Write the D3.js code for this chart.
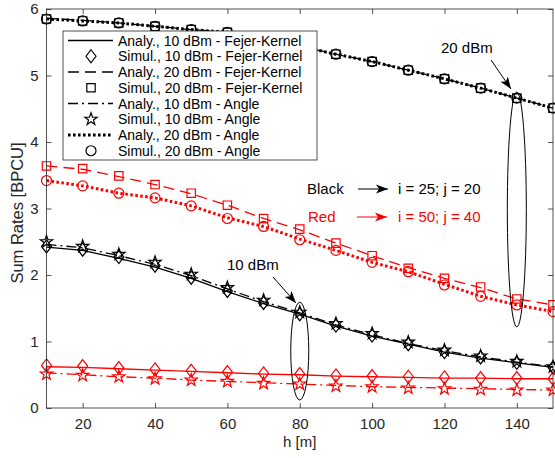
<!DOCTYPE html>
<html>
<head>
<meta charset="utf-8">
<script src="https://cdn.jsdelivr.net/npm/d3@7"></script>
<style>
  body { margin: 0; background: #fff; }
  svg { font-family: "Liberation Sans", Arial, sans-serif; }
</style>
</head>
<body>
<svg id="chart" width="555" height="458"></svg>
<script>
// h values (x axis)
const hValues = [10, 20, 30, 40, 50, 60, 70, 80, 90, 100, 110, 120, 130, 140, 150];

// black curves: i = 25; j = 20
const blackAnaFK10 = [2.42, 2.37, 2.25, 2.12, 1.95, 1.75, 1.57, 1.41, 1.23, 1.08, 0.96, 0.84, 0.75, 0.68, 0.61];
const blackSimFK10 = [2.43, 2.38, 2.27, 2.14, 1.96, 1.76, 1.58, 1.41, 1.24, 1.09, 0.96, 0.84, 0.76, 0.68, 0.61];
const blackAnaFK20 = [5.86, 5.83, 5.79, 5.74, 5.69, 5.65, 5.55, 5.44, 5.32, 5.21, 5.08, 4.95, 4.81, 4.66, 4.51];
const blackSimFK20 = [5.85, 5.82, 5.79, 5.74, 5.69, 5.65, 5.55, 5.44, 5.32, 5.21, 5.08, 4.95, 4.81, 4.66, 4.51];
const blackAnaAng10 = [2.46, 2.41, 2.29, 2.16, 1.99, 1.79, 1.60, 1.43, 1.25, 1.10, 0.97, 0.86, 0.77, 0.69, 0.62];
const blackSimAng10 = [2.50, 2.43, 2.31, 2.19, 2.01, 1.81, 1.62, 1.44, 1.27, 1.12, 0.99, 0.87, 0.78, 0.70, 0.62];
const blackAnaAng20 = [5.85, 5.82, 5.79, 5.74, 5.69, 5.65, 5.55, 5.44, 5.32, 5.21, 5.08, 4.95, 4.81, 4.66, 4.51];
const blackSimAng20 = [5.85, 5.82, 5.79, 5.74, 5.69, 5.65, 5.55, 5.44, 5.32, 5.21, 5.08, 4.95, 4.81, 4.66, 4.51];

// red curves: i = 50; j = 40
const redAnaFK10 = [0.62, 0.61, 0.59, 0.57, 0.55, 0.53, 0.51, 0.50, 0.48, 0.47, 0.46, 0.45, 0.45, 0.44, 0.44];
const redSimFK10 = [0.64, 0.63, 0.60, 0.58, 0.56, 0.54, 0.52, 0.51, 0.49, 0.48, 0.47, 0.46, 0.45, 0.45, 0.44];
const redAnaFK20 = [3.64, 3.59, 3.48, 3.36, 3.22, 3.05, 2.85, 2.68, 2.48, 2.29, 2.11, 1.95, 1.81, 1.64, 1.55];
const redSimFK20 = [3.64, 3.60, 3.49, 3.36, 3.23, 3.05, 2.85, 2.69, 2.48, 2.29, 2.10, 1.95, 1.82, 1.64, 1.55];
const redAnaAng10 = [0.53, 0.50, 0.47, 0.45, 0.42, 0.40, 0.38, 0.36, 0.34, 0.32, 0.31, 0.30, 0.29, 0.28, 0.27];
const redSimAng10 = [0.51, 0.49, 0.47, 0.44, 0.42, 0.40, 0.37, 0.36, 0.33, 0.32, 0.30, 0.29, 0.28, 0.27, 0.27];
const redAnaAng20 = [3.42, 3.34, 3.23, 3.16, 3.04, 2.86, 2.73, 2.54, 2.37, 2.19, 2.05, 1.86, 1.68, 1.55, 1.45];
const redSimAng20 = [3.42, 3.34, 3.23, 3.16, 3.04, 2.85, 2.73, 2.53, 2.37, 2.19, 2.05, 1.85, 1.68, 1.55, 1.45];

const xTicks = [20, 40, 60, 80, 100, 120, 140];
const yTicks = [0, 1, 2, 3, 4, 5, 6];

const legendLabels = [
  "Analy., 10 dBm - Fejer-Kernel",
  "Simul., 10 dBm - Fejer-Kernel",
  "Analy., 20 dBm - Fejer-Kernel",
  "Simul., 20 dBm - Fejer-Kernel",
  "Analy., 10 dBm - Angle",
  "Simul., 10 dBm - Angle",
  "Analy., 20 dBm - Angle",
  "Simul., 20 dBm - Angle"
];

const RED = "#ff0000";
const BLACK = "#000000";
const AX = "#262626";

// line styles
const styles = {
  solid:   { dash: null, width: 1.3 },
  dashed:  { dash: "11,6", width: 1.3 },
  dashdot: { dash: "10,4,2,4", width: 1.3 },
  dotted:  { dash: "2.6,2.4", width: 3 }
};

const lines = [
  { data: blackAnaFK10, color: BLACK, style: "solid" },
  { data: blackAnaFK20, color: BLACK, style: "dashed" },
  { data: blackAnaAng10, color: BLACK, style: "dashdot" },
  { data: blackAnaAng20, color: BLACK, style: "dotted" },
  { data: redAnaFK10, color: RED, style: "solid" },
  { data: redAnaFK20, color: RED, style: "dashed" },
  { data: redAnaAng10, color: RED, style: "dashdot" },
  { data: redAnaAng20, color: RED, style: "dotted" }
];

const markers = [
  { data: blackSimFK10, color: BLACK, shape: "diamond" },
  { data: blackSimAng10, color: BLACK, shape: "star" },
  { data: blackSimFK20, color: BLACK, shape: "square" },
  { data: blackSimAng20, color: BLACK, shape: "circle" },
  { data: redSimFK10, color: RED, shape: "diamond" },
  { data: redSimAng10, color: RED, shape: "star" },
  { data: redSimFK20, color: RED, shape: "square" },
  { data: redSimAng20, color: RED, shape: "circle" }
];

function markerPath(shape) {
  if (shape === "diamond") return "M0,-6.5L5,0L0,6.5L-5,0Z";
  if (shape === "square") return "M-4.2,-4.2h8.4v8.4h-8.4Z";
  if (shape === "circle") return "M5,0A5,5 0 1,1 -5,0A5,5 0 1,1 5,0Z";
  // 5 point star
  let p = "";
  for (let k = 0; k < 10; k++) {
    const r = k % 2 === 0 ? 6.5 : 2.6;
    const a = -Math.PI / 2 + k * Math.PI / 5;
    p += (k === 0 ? "M" : "L") + (r * Math.cos(a)).toFixed(2) + "," + (r * Math.sin(a)).toFixed(2);
  }
  return p + "Z";
}

const svg = d3.select("#chart");
const plotL = 46.5, plotR = 553, plotT = 9, plotB = 408;

const x = d3.scaleLinear().domain([10, 150]).range([plotL, plotR]);
const y = d3.scaleLinear().domain([0, 6]).range([plotB, plotT]);

// arrowhead marker
const defs = svg.append("defs");
function addHead(id, color) {
  defs.append("marker")
    .attr("id", id)
    .attr("viewBox", "0 -5 12 10")
    .attr("refX", 12).attr("refY", 0)
    .attr("markerWidth", 12).attr("markerHeight", 10)
    .attr("markerUnits", "userSpaceOnUse")
    .attr("orient", "auto")
    .append("path")
    .attr("d", "M0,-4.5L12,0L0,4.5L3,0Z")
    .attr("fill", color);
}
addHead("headBlack", BLACK);
addHead("headRed", RED);

const plot = svg.append("g");

// lines
const lineGen = d3.line()
  .x((d, i) => x(hValues[i]))
  .y(d => y(d));

lines.forEach(s => {
  const st = styles[s.style];
  plot.append("path")
    .datum(s.data)
    .attr("d", lineGen)
    .attr("fill", "none")
    .attr("stroke", s.color)
    .attr("stroke-width", st.width)
    .attr("stroke-dasharray", st.dash);
});

// markers
markers.forEach(s => {
  plot.selectAll(null)
    .data(s.data)
    .enter()
    .append("path")
    .attr("transform", (d, i) => `translate(${x(hValues[i])},${y(d)})`)
    .attr("d", markerPath(s.shape))
    .attr("fill", "none")
    .attr("stroke", s.color)
    .attr("stroke-width", 1.2);
});

// axes (inside ticks, box on)
svg.append("g")
  .attr("transform", `translate(0,${plotB})`)
  .call(d3.axisBottom(x).tickValues(xTicks).tickSize(-5).tickPadding(10));
svg.append("g")
  .attr("transform", `translate(0,${plotT})`)
  .call(d3.axisTop(x).tickValues(xTicks).tickSize(-5).tickFormat(""));
svg.append("g")
  .attr("transform", `translate(${plotL},0)`)
  .call(d3.axisLeft(y).tickValues(yTicks).tickFormat(d3.format("d")).tickSize(-5).tickPadding(8));
svg.append("g")
  .attr("transform", `translate(${plotR},0)`)
  .call(d3.axisRight(y).tickValues(yTicks).tickSize(-5).tickFormat(""));

svg.selectAll(".domain").remove();
svg.selectAll(".tick line").attr("stroke", AX).attr("stroke-width", 0.8);
svg.selectAll(".tick text")
  .attr("fill", AX)
  .style("font-size", "15px")
  .style("font-family", "'Liberation Sans', Arial, sans-serif");

svg.append("rect")
  .attr("x", plotL).attr("y", plotT)
  .attr("width", plotR - plotL).attr("height", plotB - plotT)
  .attr("fill", "none")
  .attr("stroke", AX)
  .attr("stroke-width", 0.8);

// axis labels
svg.append("text")
  .attr("x", (plotL + plotR) / 2).attr("y", 447)
  .attr("text-anchor", "middle")
  .attr("fill", AX)
  .style("font-size", "15px")
  .text("h [m]");

svg.append("text")
  .attr("transform", "translate(23,213) rotate(-90)")
  .attr("text-anchor", "middle")
  .attr("fill", AX)
  .style("font-size", "16.5px")
  .text("Sum Rates [BPCU]");

// legend
const legend = svg.append("g");
legend.append("rect")
  .attr("x", 63).attr("y", 31)
  .attr("width", 254).attr("height", 129)
  .attr("fill", "#fff")
  .attr("stroke", AX)
  .attr("stroke-width", 0.8);

const legendStyles = ["solid", null, "dashed", null, "dashdot", null, "dotted", null];
const legendShapes = [null, "diamond", null, "square", null, "star", null, "circle"];

legendLabels.forEach((label, i) => {
  const ly = 40.5 + i * 15.75;
  const g = legend.append("g").attr("transform", `translate(0,${ly})`);
  if (legendStyles[i]) {
    const st = styles[legendStyles[i]];
    g.append("line")
      .attr("x1", 68).attr("x2", 113)
      .attr("y1", 0).attr("y2", 0)
      .attr("stroke", BLACK)
      .attr("stroke-width", st.width)
      .attr("stroke-dasharray", st.dash);
  } else {
    g.append("path")
      .attr("transform", "translate(91,0)")
      .attr("d", markerPath(legendShapes[i]))
      .attr("fill", "none")
      .attr("stroke", BLACK)
      .attr("stroke-width", 1.2);
  }
  g.append("text")
    .attr("x", 118).attr("y", 5)
    .attr("fill", BLACK)
    .style("font-size", "14px")
    .text(label);
});

// annotations
const ann = svg.append("g");

ann.append("ellipse")
  .attr("cx", x(140)).attr("cy", (y(4.75) + y(1.22)) / 2)
  .attr("rx", 9.5).attr("ry", (y(1.22) - y(4.75)) / 2)
  .attr("fill", "none").attr("stroke", BLACK).attr("stroke-width", 1);

ann.append("ellipse")
  .attr("cx", x(80)).attr("cy", (y(1.59) + y(0.12)) / 2)
  .attr("rx", 9).attr("ry", (y(0.12) - y(1.59)) / 2)
  .attr("fill", "none").attr("stroke", BLACK).attr("stroke-width", 1);

function arrow(x1, y1, x2, y2, color, head) {
  ann.append("line")
    .attr("x1", x1).attr("y1", y1).attr("x2", x2).attr("y2", y2)
    .attr("stroke", color).attr("stroke-width", 1)
    .attr("marker-end", `url(#${head})`);
}

arrow(491, 60, 511, 89, BLACK, "headBlack");
arrow(273, 277, 296, 303, BLACK, "headBlack");
arrow(358, 189, 388, 189, BLACK, "headBlack");
arrow(357, 217, 387, 217, RED, "headRed");

ann.append("text").attr("x", 441).attr("y", 53).style("font-size", "15px").attr("fill", BLACK).text("20 dBm");
ann.append("text").attr("x", 227).attr("y", 270).style("font-size", "15px").attr("fill", BLACK).text("10 dBm");
ann.append("text").attr("x", 307).attr("y", 194).style("font-size", "15px").attr("fill", BLACK).text("Black");
ann.append("text").attr("x", 398).attr("y", 194).style("font-size", "15px").attr("fill", BLACK).text("i = 25; j = 20");
ann.append("text").attr("x", 308).attr("y", 222).style("font-size", "15px").attr("fill", RED).text("Red");
ann.append("text").attr("x", 398).attr("y", 222).style("font-size", "15px").attr("fill", RED).text("i = 50; j = 40");
</script>
</body>
</html>
